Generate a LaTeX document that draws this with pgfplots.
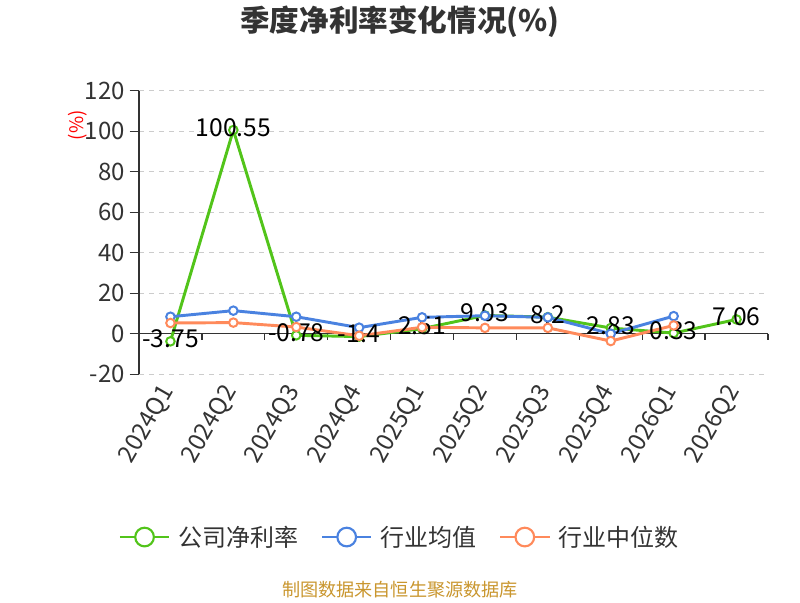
\documentclass[border=0pt]{standalone}
\usepackage{fontspec}
\setmainfont{Noto Sans CJK SC}
\usepackage{pgfplots}
\pgfplotsset{compat=1.18}
\definecolor{cgreen}{HTML}{52C41A}
\definecolor{cblue}{HTML}{4A82E0}
\definecolor{corange}{HTML}{FF8A5B}
\definecolor{ctext}{HTML}{333333}
\definecolor{cgrid}{HTML}{CCCCCC}
\definecolor{csrc}{HTML}{C9962E}
\begin{document}
\begin{tikzpicture}[x=1pt,y=1pt]
\path (0,0) rectangle (600,450);
\node[font=\fontsize{22.2}{25}\selectfont\bfseries, text=ctext] at (300,433.5) {季度净利率变化情况(\%)};
\node[rotate=90, text=red, font=\fontsize{14}{16}\selectfont] at (58,356) {(\%)};
\node[text=csrc, font=\fontsize{13.6}{16}\selectfont] at (300,8) {制图数据来自恒生聚源数据库};
\begin{axis}[
  at={(104.25pt,169.3pt)}, anchor=south west,
  scale only axis, width=471.75pt, height=212.7pt,
  xmin=-0.5, xmax=9.5, ymin=-20, ymax=120,
  ytick={-20,0,20,40,60,80,100,120},
  xtick={0,...,9},
  xticklabels={2024Q1,2024Q2,2024Q3,2024Q4,2025Q1,2025Q2,2025Q3,2025Q4,2026Q1,2026Q2},
  axis y line*=left, axis x line*=bottom,
  x axis line style={draw=none},
  y axis line style={ctext, line width=1pt},
  xtick style={draw=none},
  ytick style={ctext, line width=1pt},
  tick align=outside,
  major tick length=7pt,
  ymajorgrids,
  grid style={cgrid, dash pattern=on 4pt off 3.5pt, line width=0.9pt},
  tick label style={font=\fontsize{18}{21}\selectfont, text=ctext},
  /pgf/number format/assume math mode=true,
  xticklabel style={rotate=60, anchor=east},
  clip=false,
  legend style={at={(0.415,-0.574)}, anchor=center, draw=none, fill=none,
    legend columns=3, font=\fontsize{18}{21}\selectfont, text=ctext,
    /tikz/every odd column/.append style={column sep=4pt},
    /tikz/every even column/.append style={column sep=15pt}},
  legend cell align=left,
  legend image code/.code={
    \draw[#1, line width=1.6pt, mark=none] (0pt,0pt) -- (37pt,0pt);
    \draw[#1, line width=1.6pt, fill=white] (18.5pt,0pt) circle (7pt);},
]
\draw[ctext, line width=1.1pt] (axis cs:-0.5,0) -- (axis cs:9.5,0);
\draw[ctext, line width=1pt]
  (axis cs:0.5,0) -- ++(0pt,-5pt)
  (axis cs:1.5,0) -- ++(0pt,-5pt)
  (axis cs:2.5,0) -- ++(0pt,-5pt)
  (axis cs:3.5,0) -- ++(0pt,-5pt)
  (axis cs:4.5,0) -- ++(0pt,-5pt)
  (axis cs:5.5,0) -- ++(0pt,-5pt)
  (axis cs:6.5,0) -- ++(0pt,-5pt)
  (axis cs:7.5,0) -- ++(0pt,-5pt)
  (axis cs:8.5,0) -- ++(0pt,-5pt)
  (axis cs:9.5,0) -- ++(0pt,-5pt);
\addplot[cgreen, line width=2.2pt, mark=*, mark size=3.2pt,
  mark options={fill=white, line width=1.5pt},
  nodes near coords, point meta=explicit symbolic,
  every node near coord/.append style={anchor=center, yshift=2pt, text=black, font=\fontsize{18.5}{21}\selectfont}]
  coordinates {(0,-3.75)[-3.75] (1,100.55)[100.55] (2,-0.78)[-0.78] (3,-1.4)[-1.4] (4,2.51)[2.51]
  (5,9.03)[9.03] (6,8.2)[8.2] (7,2.83)[2.83] (8,0.33)[0.33] (9,7.06)[7.06]};
\addlegendentry{公司净利率}
\addplot[cblue, line width=2.2pt, mark=*, mark size=3.2pt,
  mark options={fill=white, line width=1.5pt}]
  coordinates {(0,8.4) (1,11.4) (2,8.4) (3,3.0) (4,8.1) (5,8.9) (6,8.1) (7,0.0) (8,8.7)};
\addlegendentry{行业均值}
\addplot[corange, line width=2.2pt, mark=*, mark size=3.2pt,
  mark options={fill=white, line width=1.5pt}]
  coordinates {(0,5.3) (1,5.5) (2,3.3) (3,-1.0) (4,3.2) (5,2.9) (6,2.9) (7,-3.6) (8,4.1)};
\addlegendentry{行业中位数}
\end{axis}
\end{tikzpicture}
\end{document}
